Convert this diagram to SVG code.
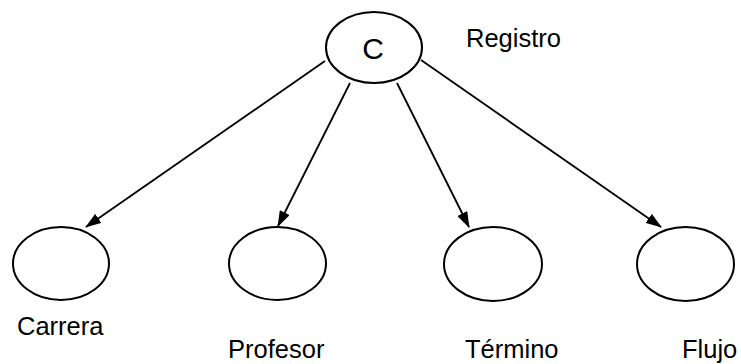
<svg xmlns="http://www.w3.org/2000/svg" width="741" height="364" viewBox="0 0 741 364">
<style>
.node{fill:#fff;stroke:#000;stroke-width:2}
.lbl{font-family:"Liberation Sans",Arial,sans-serif;font-size:25.5px;fill:#000}
.edge{stroke:#000;stroke-width:1.8;fill:none}
</style>
<defs>
<marker id="arr" markerWidth="16" markerHeight="11" refX="15" refY="5.5" orient="auto" markerUnits="userSpaceOnUse">
<path d="M0,0 L16,5.5 L0,11 Z" fill="#000"/>
</marker>
</defs>
<rect width="741" height="364" fill="#fff"/>
<g id="connectors">
<line class="edge" x1="325" y1="61" x2="86" y2="227" marker-end="url(#arr)"/>
<line class="edge" x1="350" y1="83" x2="278" y2="226" marker-end="url(#arr)"/>
<line class="edge" x1="397" y1="83" x2="469" y2="227" marker-end="url(#arr)"/>
<line class="edge" x1="421" y1="60" x2="661" y2="227" marker-end="url(#arr)"/>
</g>
<g id="node-c">
<ellipse class="node" cx="374" cy="47.5" rx="48" ry="35.5"/>
<text class="lbl" x="373" y="59" text-anchor="middle" style="font-size:30px">C</text>
</g>
<text class="lbl" x="466" y="47">Registro</text>
<g id="node-carrera">
<ellipse class="node" cx="61" cy="263.5" rx="48" ry="36.5"/>
<text class="lbl" x="17" y="335">Carrera</text>
</g>
<g id="node-profesor">
<ellipse class="node" cx="277.5" cy="263.5" rx="48.5" ry="36.5"/>
<text class="lbl" x="228" y="358">Profesor</text>
</g>
<g id="node-termino">
<ellipse class="node" cx="493" cy="264" rx="49" ry="37"/>
<text class="lbl" x="465" y="358">Término</text>
</g>
<g id="node-flujo">
<ellipse class="node" cx="685.5" cy="264" rx="48.5" ry="37"/>
<text class="lbl" x="682" y="358">Flujo</text>
</g>
</svg>
